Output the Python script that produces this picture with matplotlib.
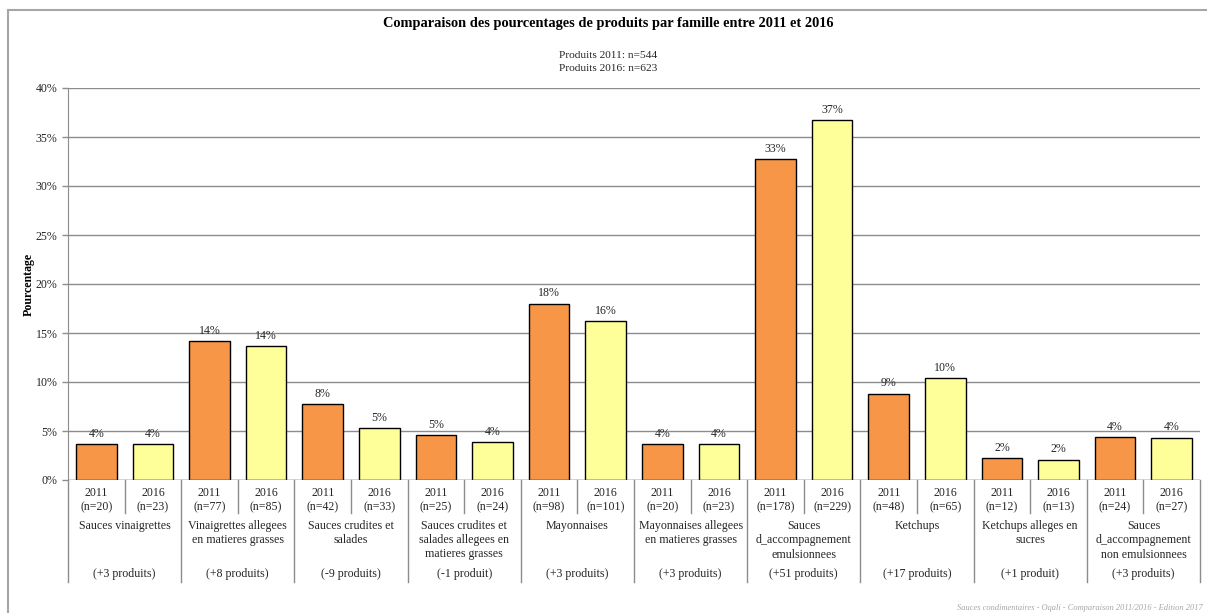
import matplotlib.pyplot as plt
import matplotlib.transforms as mtransforms

plt.rcParams['font.family'] = ['Liberation Serif', 'DejaVu Serif']

# data
families = ['Sauces vinaigrettes',
            'Vinaigrettes allegees\nen matieres grasses',
            'Sauces crudites et\nsalades',
            'Sauces crudites et\nsalades allegees en\nmatieres grasses',
            'Mayonnaises',
            'Mayonnaises allegees\nen matieres grasses',
            'Sauces\nd_accompagnement\nemulsionnees',
            'Ketchups',
            'Ketchups alleges en\nsucres',
            'Sauces\nd_accompagnement\nnon emulsionnees']
n_2011 = [20, 77, 42, 25, 98, 20, 178, 48, 12, 24]
n_2016 = [23, 85, 33, 24, 101, 23, 229, 65, 13, 27]
pct_2011 = [3.68, 14.15, 7.72, 4.60, 18.01, 3.68, 32.72, 8.82, 2.21, 4.41]
pct_2016 = [3.69, 13.64, 5.30, 3.85, 16.21, 3.69, 36.76, 10.43, 2.09, 4.33]
diff_labels = ['(+3 produits)', '(+8 produits)', '(-9 produits)', '(-1 produit)',
               '(+3 produits)', '(+3 produits)', '(+51 produits)', '(+17 produits)',
               '(+1 produit)', '(+3 produits)']

c2011 = '#F79646'
c2016 = '#FFFF99'
grid_c = '#8C8C8C'
txt_c = '#262626'
fs = 8.6

W, H = 1207, 613
fig = plt.figure(figsize=(W / 100, H / 100), dpi=100)
ax = fig.add_axes([68 / W, 1 - 480 / H, (1200 - 68) / W, (480 - 88) / H])

# outer frame (top and left visible)
fig.add_artist(plt.Line2D([8 / W, 1], [1 - 10 / H, 1 - 10 / H], color='#A6A6A6', lw=1.5))
fig.add_artist(plt.Line2D([8 / W, 8 / W], [0, 1 - 10 / H], color='#A6A6A6', lw=1.5))

ng = len(families)
bw = 0.72
for i in range(ng):
    for j, (vals, col) in enumerate([(pct_2011, c2011), (pct_2016, c2016)]):
        x = 2 * i + j + 0.5
        v = vals[i]
        ax.bar(x, v, width=bw, color=col, edgecolor='black', linewidth=1.0, zorder=3)
        ax.annotate(f'{v:.0f}%', (x, v), xytext=(0, 3), textcoords='offset points',
                    ha='center', va='bottom', fontsize=fs, color=txt_c)

ax.set_xlim(0, 2 * ng)
ax.set_ylim(0, 40)
ax.set_yticks(range(0, 41, 5))
ax.set_yticklabels([f'{t}%' for t in range(0, 41, 5)], fontsize=fs, color=txt_c)
ax.yaxis.grid(True, color=grid_c, lw=1.0, zorder=0)
ax.set_xticks([])
ax.tick_params(axis='y', length=4, width=1, color=grid_c, pad=3.5)
for s in ['top', 'right', 'bottom']:
    ax.spines[s].set_visible(False)
ax.spines['left'].set_color(grid_c)
ax.axhline(0, color=grid_c, lw=1.0, zorder=4)

ax.set_ylabel('Pourcentage', fontsize=fs, fontweight='bold', color='black')
ax.yaxis.set_label_coords(-33 / 1132, 0.5)

# category table below axis
trans = mtransforms.blended_transform_factory(ax.transData, ax.transAxes)
axh = 480 - 88


def ypx(p):
    return (480 - p) / axh


for i in range(ng + 1):
    ax.plot([2 * i, 2 * i], [0, ypx(582)], transform=trans, color=grid_c, lw=1.0, clip_on=False)
for i in range(ng):
    ax.plot([2 * i + 1, 2 * i + 1], [0, ypx(513)], transform=trans, color=grid_c, lw=1.0, clip_on=False)
    ax.text(2 * i + 0.5, ypx(500), f'2011\n(n={n_2011[i]})', transform=trans, ha='center', va='center',
            fontsize=fs, color=txt_c, linespacing=1.25)
    ax.text(2 * i + 1.5, ypx(500), f'2016\n(n={n_2016[i]})', transform=trans, ha='center', va='center',
            fontsize=fs, color=txt_c, linespacing=1.25)
    ax.text(2 * i + 1, ypx(520), families[i], transform=trans, ha='center', va='top',
            fontsize=fs, color=txt_c, linespacing=1.25)
    ax.text(2 * i + 1, ypx(574), diff_labels[i], transform=trans, ha='center', va='center',
            fontsize=fs, color=txt_c)

fig.text(608 / W, 1 - 24 / H, 'Comparaison des pourcentages de produits par famille entre 2011 et 2016',
         ha='center', va='center', fontsize=10.4, fontweight='bold', color='black')
fig.text(608 / W, 1 - 62 / H, 'Produits 2011: n=544\nProduits 2016: n=623',
         ha='center', va='center', fontsize=8.2, color=txt_c, linespacing=1.45)
fig.text(1203 / W, 1 - 608 / H, 'Sauces condimentaires - Oqali - Comparaison 2011/2016 - Edition 2017',
         ha='right', va='center', fontsize=6, style='italic', color='#A6A6A6')

fig.savefig('out.png', dpi=100)
